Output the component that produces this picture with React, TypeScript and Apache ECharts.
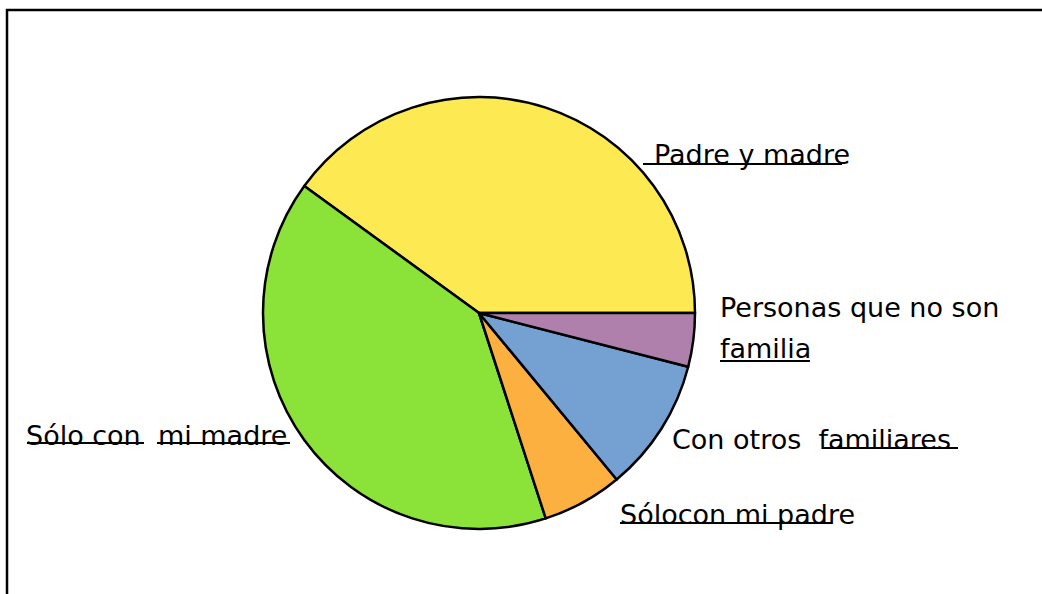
import React, { useEffect, useRef } from "react";
import * as echarts from "echarts";

const categories = [
  "Padre y madre",
  "Sólo con  mi madre",
  "Sólocon mi padre",
  "Con otros  familiares",
  "Personas que no son familia",
];
const labelLines = [
  ["Padre y madre"],
  ["Sólo con  mi madre"],
  ["Sólocon mi padre"],
  ["Con otros  familiares"],
  ["Personas que no son", "familia"],
];
const values = [40, 40, 6, 10, 4];
const colors = ["#FDE952", "#8BE339", "#FBB040", "#74A1D2", "#AE80AB"];

// label anchor (left x, baseline y of first line)
const labelPos: [number, number][] = [
  [654, 162],
  [26, 443],
  [620, 522],
  [672, 447],
  [720, 315],
];
const lineGap = 41;

// underline segments [x1, x2, y]
const underlines: [number, number, number][] = [
  [643, 842, 164],
  [27, 144, 443],
  [157, 290, 443],
  [620, 832, 523],
  [822, 958, 448],
  [720, 810, 361],
];

export default function App() {
  const ref = useRef<HTMLDivElement>(null);
  useEffect(() => {
    if (!ref.current) return;
    const chart = echarts.init(ref.current, null, { renderer: "svg" });
    const texts: any[] = [];
    labelLines.forEach((lines, i) => {
      lines.forEach((t, j) => {
        texts.push({
          type: "text",
          x: labelPos[i][0],
          y: labelPos[i][1] + j * lineGap - 8,
          silent: true,
          style: {
            text: t,
            fill: "#000",
            fontFamily: "DejaVu Sans",
            fontSize: 27,
            align: "left",
            verticalAlign: "middle",
          },
        });
      });
    });
    chart.setOption({
      animation: false,
      backgroundColor: "#ffffff",
      graphic: [
        {
          type: "rect",
          shape: { x: 7, y: 10, width: 1200, height: 800 },
          style: { fill: "none", stroke: "#000", lineWidth: 2.5 },
          silent: true,
        },
        ...underlines.map((u) => ({
          type: "line",
          shape: { x1: u[0], y1: u[2], x2: u[1], y2: u[2] },
          style: { stroke: "#000", lineWidth: 2 },
          silent: true,
        })),
        ...texts,
      ],
      series: [
        {
          type: "pie",
          center: [479, 313],
          radius: 216,
          startAngle: 0,
          clockwise: false,
          data: categories.map((c, i) => ({
            name: c,
            value: values[i],
            itemStyle: { color: colors[i] },
          })),
          itemStyle: { borderColor: "#000", borderWidth: 2.5 },
          label: { show: false },
          labelLine: { show: false },
          emphasis: { disabled: true },
        },
      ],
    });
    return () => chart.dispose();
  }, []);
  return (
    <div
      ref={ref}
      style={{ position: "fixed", left: 0, top: 0, width: 1042, height: 594 }}
    />
  );
}
